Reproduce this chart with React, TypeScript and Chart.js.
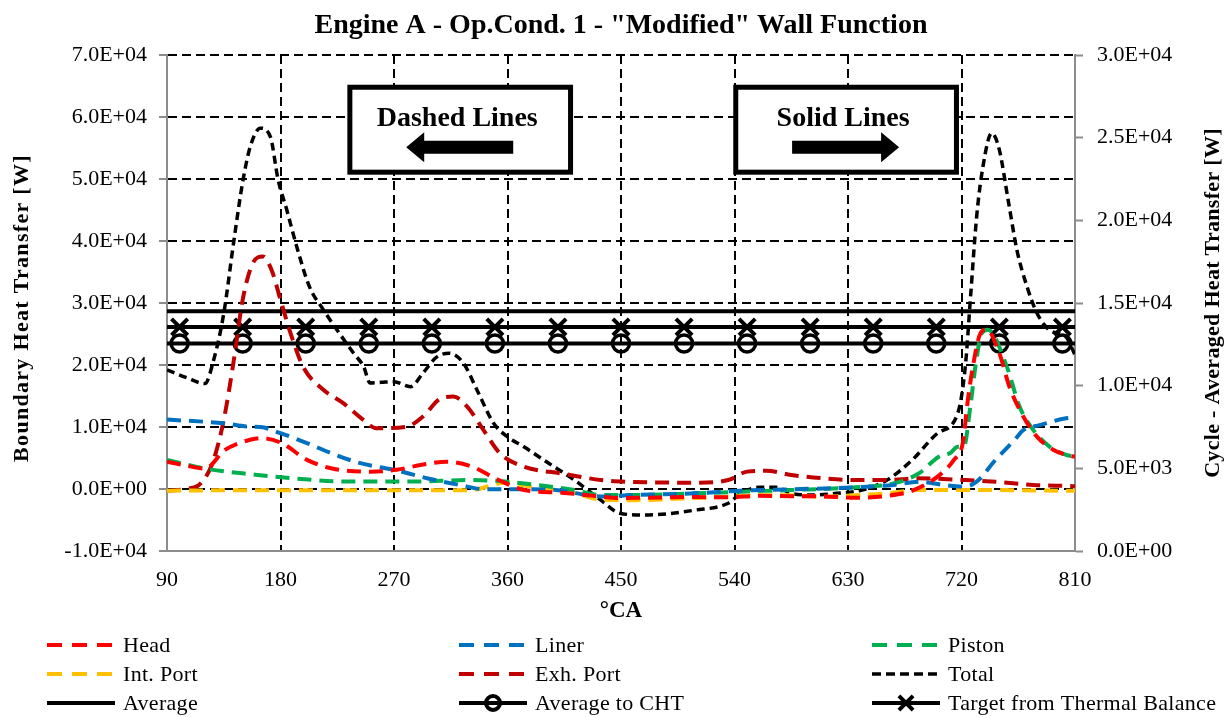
import React, { useEffect, useRef } from "react";
import { Chart, registerables } from "chart.js";

Chart.register(...registerables);

const FONT = "'Liberation Serif', 'Times New Roman', Times, serif";

const chartTitle = 'Engine A - Op.Cond. 1 - "Modified" Wall Function';
const xTitle = "°CA";
const yLeftTitle = "Boundary Heat Transfer [W]";
const yRightTitle = "Cycle - Averaged Heat Transfer [W]";

const xTickValues = [90, 180, 270, 360, 450, 540, 630, 720, 810];

// Head
const headAngles = [90, 105, 120, 136, 150, 165, 181, 201, 221, 251, 272, 292, 312, 332, 353, 373, 403, 433, 449, 470, 509, 535, 560, 585, 610, 636, 661, 681, 701, 714, 721, 725, 729, 735, 740, 750, 758, 769, 780, 793, 803, 810];
const headValues = [4400, 3800, 3300, 6300, 7600, 8200, 7400, 4700, 3300, 2800, 3100, 3900, 4400, 3600, 1450, -160, -600, -1200, -1450, -1400, -1300, -1350, -1100, -1150, -1200, -1400, -1100, -270, 2000, 4700, 7400, 14300, 19700, 25100, 25700, 21900, 16500, 11700, 8400, 6300, 5500, 5200];

// Liner
const linerAngles = [90, 135, 155, 164, 180, 201, 220, 241, 272, 297, 322, 342, 373, 398, 434, 459, 509, 545, 585, 636, 666, 686, 706, 722, 732, 747, 762, 769, 782, 803, 810];
const linerValues = [11200, 10600, 10050, 10000, 9000, 7400, 5800, 4300, 3000, 1700, 650, -50, -50, -160, -1200, -970, -700, -270, -50, 270, 650, 1180, 650, 380, 1180, 4700, 7900, 9500, 10300, 11400, 11500];

// Piston
const pistonAngles = [90, 120, 160, 191, 231, 282, 332, 358, 383, 413, 434, 459, 509, 545, 585, 636, 666, 686, 702, 711, 717, 722, 727, 731, 736, 741, 756, 766, 777, 790, 803, 810];
const pistonValues = [4700, 3300, 2300, 1700, 1200, 1200, 1450, 1200, 650, -160, -970, -970, -700, -430, -160, 270, 900, 2500, 5200, 5800, 6800, 6900, 13300, 19700, 25100, 25700, 19700, 13300, 9500, 6800, 5500, 5200];

// Int. Port
const intPortAngles = [90, 150, 250, 330, 358, 375, 413, 434, 459, 509, 535, 560, 585, 610, 636, 661, 686, 737, 803, 810];
const intPortValues = [-270, -200, -200, -200, 1000, 500, -700, -1700, -1800, -1450, -1250, -1000, -1000, -1250, -1000, -700, -160, -160, -270, -270];

// Exh. Port
const exhPortAngles = [90, 105, 115, 121, 127, 135, 143, 150, 158, 166, 173, 180, 188, 198, 214, 230, 246, 256, 280, 293, 307, 317, 328, 341, 354, 373, 403, 434, 454, 509, 535, 550, 565, 585, 611, 636, 661, 686, 722, 747, 777, 803, 810];
const exhPortValues = [-300, 0, 600, 2000, 4700, 11100, 20800, 30500, 36400, 37500, 35300, 30500, 25100, 19700, 16000, 13800, 11100, 9800, 10050, 11700, 14600, 14900, 13300, 9500, 5750, 3600, 2500, 1450, 1180, 1020, 1450, 2800, 2950, 2260, 1720, 1450, 1450, 1720, 1450, 1180, 650, 490, 450];

// Total
const totalAngles = [90, 105, 120, 127, 135, 143, 150, 156, 164, 172, 178, 185, 193, 203, 214, 225, 238, 246, 251, 260, 270, 283, 293, 304, 314, 325, 336, 349, 360, 373, 393, 413, 434, 449, 469, 509, 535, 545, 560, 573, 585, 600, 621, 641, 661, 681, 701, 717, 723, 727, 732, 737, 744, 750, 757, 764, 772, 780, 790, 803, 810];
const totalValues = [19200, 18000, 17000, 20800, 28300, 40000, 49500, 55200, 58200, 56800, 50000, 45000, 39000, 32600, 28900, 25600, 21900, 19700, 17100, 17200, 17300, 16500, 18700, 21300, 21900, 20300, 15900, 10600, 8400, 6800, 4100, 1450, -1800, -3900, -4200, -3400, -2300, -700, 270, 270, -700, -970, -700, -160, 1450, 4700, 9000, 12200, 19700, 30500, 43900, 52000, 57400, 54700, 46600, 38500, 32600, 28300, 25600, 24500, 21600];

// Cycle-averaged levels (right axis)
const averageAngles = [90, 810];
const averageValues = [14500, 14500];
const chtAngles = [90, 100, 150, 200, 250, 300, 350, 400, 450, 500, 550, 600, 650, 700, 750, 800, 810];
const chtValues = [12550, 12550, 12550, 12550, 12550, 12550, 12550, 12550, 12550, 12550, 12550, 12550, 12550, 12550, 12550, 12550, 12550];
const targetAngles = [90, 100, 150, 200, 250, 300, 350, 400, 450, 500, 550, 600, 650, 700, 750, 800, 810];
const targetValues = [13550, 13550, 13550, 13550, 13550, 13550, 13550, 13550, 13550, 13550, 13550, 13550, 13550, 13550, 13550, 13550, 13550];

// Annotation boxes (in data units of x / left y)
const boxTexts = ["Dashed Lines", "Solid Lines"];
const boxX0 = [235, 541];
const boxX1 = [410, 716];
const boxYTop = 64800;
const boxYBottom = 51100;

const legendOrder = [
  "Head", "Liner", "Piston",
  "Int. Port", "Exh. Port", "Total",
  "Average", "Average to CHT", "Target from Thermal Balance",
];

function pts(xs: number[], ys: number[]) {
  return xs.map((x, i) => ({ x, y: ys[i] }));
}

function sci(v: number): string {
  if (v === 0) return "0.0E+00";
  const e = Math.floor(Math.log10(Math.abs(v)) + 1e-9);
  const m = v / Math.pow(10, e);
  return `${m.toFixed(1)}E${e >= 0 ? "+" : "-"}${String(Math.abs(e)).padStart(2, "0")}`;
}

const GRAY = "#8c8c8c";

function drawMarker(ctx: CanvasRenderingContext2D, style: string, x: number, y: number, r: number, lw: number) {
  ctx.save();
  ctx.setLineDash([]);
  ctx.lineWidth = lw;
  ctx.strokeStyle = "#000";
  ctx.beginPath();
  if (style === "circle") {
    ctx.arc(x, y, r, 0, Math.PI * 2);
  } else {
    const d = r * Math.SQRT1_2;
    ctx.moveTo(x - d, y - d);
    ctx.lineTo(x + d, y + d);
    ctx.moveTo(x + d, y - d);
    ctx.lineTo(x - d, y + d);
  }
  ctx.stroke();
  ctx.restore();
}

const decorPlugin = {
  id: "decor",
  afterDraw(chart: any) {
    const ctx: CanvasRenderingContext2D = chart.ctx;
    const anyCtx = ctx as any;
    const area = chart.chartArea;
    const xs = chart.scales.x;
    const ys = chart.scales.y;
    const cx = (area.left + area.right) / 2;
    ctx.save();
    ctx.fillStyle = "#000";
    ctx.textAlign = "center";
    ctx.textBaseline = "alphabetic";
    ctx.font = `bold 28px ${FONT}`;
    ctx.fillText(chartTitle, cx, 33);
    ctx.font = `bold 23px ${FONT}`;
    ctx.fillText(xTitle, cx, 617);

    // axis titles (both read bottom-to-top)
    const cy = (area.top + area.bottom) / 2;
    ctx.font = `bold 22px ${FONT}`;
    ctx.textBaseline = "middle";
    ctx.save();
    anyCtx.letterSpacing = "1.3px";
    ctx.translate(22, cy + 5);
    ctx.rotate(-Math.PI / 2);
    ctx.fillText(yLeftTitle, 0, 0);
    ctx.restore();
    ctx.save();
    anyCtx.letterSpacing = "0.3px";
    ctx.translate(1213, cy);
    ctx.rotate(-Math.PI / 2);
    ctx.fillText(yRightTitle, 0, 0);
    ctx.restore();
    anyCtx.letterSpacing = "0px";

    // annotation boxes
    for (let i = 0; i < boxTexts.length; i++) {
      const l = xs.getPixelForValue(boxX0[i]);
      const r = xs.getPixelForValue(boxX1[i]);
      const t = ys.getPixelForValue(boxYTop);
      const b = ys.getPixelForValue(boxYBottom);
      ctx.fillStyle = "#fff";
      ctx.fillRect(l, t, r - l, b - t);
      ctx.lineWidth = 5;
      ctx.strokeStyle = "#000";
      ctx.setLineDash([]);
      ctx.strokeRect(l, t, r - l, b - t);
      ctx.fillStyle = "#000";
      ctx.font = `bold 28px ${FONT}`;
      ctx.textBaseline = "alphabetic";
      const mx = (l + r) / 2;
      ctx.fillText(boxTexts[i], mx - 3, t + 39);
      // arrow
      const ay = t + 60;
      const len = 107;
      const half = 6.5;
      const headL = 18;
      const headH = 15;
      ctx.beginPath();
      if (i === 0) {
        const tip = mx - 54;
        ctx.moveTo(tip, ay);
        ctx.lineTo(tip + headL, ay - headH);
        ctx.lineTo(tip + headL, ay - half);
        ctx.lineTo(tip + len, ay - half);
        ctx.lineTo(tip + len, ay + half);
        ctx.lineTo(tip + headL, ay + half);
        ctx.lineTo(tip + headL, ay + headH);
      } else {
        const tip = mx + 53;
        ctx.moveTo(tip, ay);
        ctx.lineTo(tip - headL, ay - headH);
        ctx.lineTo(tip - headL, ay - half);
        ctx.lineTo(tip - len, ay - half);
        ctx.lineTo(tip - len, ay + half);
        ctx.lineTo(tip - headL, ay + half);
        ctx.lineTo(tip - headL, ay + headH);
      }
      ctx.closePath();
      ctx.fill();
    }

    // legend
    const colX = [47, 459, 872];
    const rowY = [645, 674, 703];
    const dsets = chart.data.datasets;
    ctx.font = `22px ${FONT}`;
    ctx.textAlign = "left";
    ctx.textBaseline = "middle";
    anyCtx.letterSpacing = "0.3px";
    legendOrder.forEach((label, k) => {
      const ds = dsets.find((d: any) => d.label === label);
      if (!ds) return;
      const x = colX[k % 3];
      const y = rowY[Math.floor(k / 3)];
      ctx.save();
      ctx.strokeStyle = ds.borderColor;
      ctx.lineWidth = ds.borderWidth;
      ctx.setLineDash(ds.legendDash || []);
      ctx.beginPath();
      ctx.moveTo(x, y);
      ctx.lineTo(x + 68, y);
      ctx.stroke();
      ctx.restore();
      if (ds.markerStyle) {
        drawMarker(ctx, ds.markerStyle, x + 34, y, ds.markerStyle === "circle" ? 7 : 10, 4);
      }
      ctx.fillStyle = "#000";
      ctx.fillText(label, x + 76, y + 1);
    });
    anyCtx.letterSpacing = "0px";
    ctx.restore();
  },
};

export default function App() {
  const ref = useRef<HTMLCanvasElement | null>(null);

  useEffect(() => {
    document.body.style.margin = "0";
    const canvas = ref.current;
    if (!canvas) return;

    const dashed = (label: string, xsArr: number[], ysArr: number[], color: string) => ({
      label,
      data: pts(xsArr, ysArr),
      borderColor: color,
      backgroundColor: color,
      borderWidth: 4,
      borderDash: [14, 8],
      legendDash: [15, 10],
      pointRadius: 0,
      fill: false,
      cubicInterpolationMode: "monotone",
      yAxisID: "y",
    });

    const edgeRadius = (r: number) => (c: any) =>
      c.raw && (c.raw.x === 90 || c.raw.x === 810) ? 0 : r;

    const datasets: any[] = [
      dashed("Head", headAngles, headValues, "#FF0000"),
      dashed("Liner", linerAngles, linerValues, "#0070C0"),
      dashed("Piston", pistonAngles, pistonValues, "#00B050"),
      dashed("Int. Port", intPortAngles, intPortValues, "#FFC000"),
      dashed("Exh. Port", exhPortAngles, exhPortValues, "#C00000"),
      {
        label: "Total",
        data: pts(totalAngles, totalValues),
        borderColor: "#000",
        backgroundColor: "#000",
        borderWidth: 3.5,
        borderDash: [8, 5],
        legendDash: [9, 5],
        pointRadius: 0,
        fill: false,
        cubicInterpolationMode: "monotone",
        yAxisID: "y",
      },
      {
        label: "Average",
        data: pts(averageAngles, averageValues),
        borderColor: "#000",
        backgroundColor: "#000",
        borderWidth: 4,
        pointRadius: 0,
        fill: false,
        yAxisID: "y2",
      },
      {
        label: "Average to CHT",
        data: pts(chtAngles, chtValues),
        borderColor: "#000",
        backgroundColor: "rgba(0,0,0,0)",
        borderWidth: 4,
        pointStyle: "circle",
        pointRadius: edgeRadius(8.5),
        pointBorderWidth: 3.5,
        pointBorderColor: "#000",
        pointBackgroundColor: "rgba(0,0,0,0)",
        markerStyle: "circle",
        fill: false,
        yAxisID: "y2",
      },
      {
        label: "Target from Thermal Balance",
        data: pts(targetAngles, targetValues),
        borderColor: "#000",
        backgroundColor: "#000",
        borderWidth: 4,
        pointStyle: "crossRot",
        pointRadius: edgeRadius(11.5),
        pointBorderWidth: 4,
        pointBorderColor: "#000",
        markerStyle: "cross",
        fill: false,
        yAxisID: "y2",
      },
    ];

    Chart.defaults.font.family = FONT;

    const chart = new Chart(canvas, {
      type: "line",
      data: { datasets },
      options: {
        animation: false,
        responsive: false,
        maintainAspectRatio: false,
        devicePixelRatio: 1,
        layout: { padding: { top: 55, bottom: 126, left: 0, right: 0 } },
        plugins: {
          legend: { display: false },
          title: { display: false },
          tooltip: { enabled: false },
        },
        scales: {
          x: {
            type: "linear",
            min: 90,
            max: 810,
            afterFit: (s: any) => { s.height = 40; },
            afterBuildTicks: (s: any) => { s.ticks = xTickValues.map((v) => ({ value: v })); },
            ticks: {
              font: { family: FONT, size: 22 },
              color: "#000",
              padding: 16,
              maxRotation: 0,
              callback: (v: any) => String(v),
            },
            grid: {
              color: (c: any) => (c.tick && (c.tick.value === 90 || c.tick.value === 810) ? "rgba(0,0,0,0)" : "#000"),
              lineWidth: 2,
              drawTicks: false,
            },
            border: { display: true, color: GRAY, width: 2, dash: [9, 5] },
          },
          y: {
            type: "linear",
            position: "left",
            min: -10000,
            max: 70000,
            afterFit: (s: any) => { s.width = 167; },
            ticks: {
              stepSize: 10000,
              font: { family: FONT, size: 22 },
              color: "#000",
              padding: 12,
              callback: (v: any) => sci(Number(v)),
            },
            grid: {
              color: (c: any) => (c.tick && c.tick.value === -10000 ? "rgba(0,0,0,0)" : "#000"),
              lineWidth: 2,
              drawTicks: true,
              tickLength: 8,
              tickColor: GRAY,
              tickWidth: 2,
            },
            border: { display: true, color: GRAY, width: 2, dash: [9, 5] },
          },
          y2: {
            type: "linear",
            position: "right",
            min: 0,
            max: 30000,
            afterFit: (s: any) => { s.width = 152; },
            ticks: {
              stepSize: 5000,
              font: { family: FONT, size: 22 },
              color: "#000",
              padding: 14,
              callback: (v: any) => sci(Number(v)),
            },
            grid: {
              drawOnChartArea: false,
              drawTicks: true,
              tickLength: 8,
              tickColor: GRAY,
              tickWidth: 2,
            },
            border: { display: true, color: GRAY, width: 2 },
          },
        },
      } as any,
      plugins: [decorPlugin],
    });

    return () => chart.destroy();
  }, []);

  return (
    <div style={{ width: 1227, height: 717 }}>
      <canvas ref={ref} width={1227} height={717} style={{ display: "block" }} />
    </div>
  );
}
